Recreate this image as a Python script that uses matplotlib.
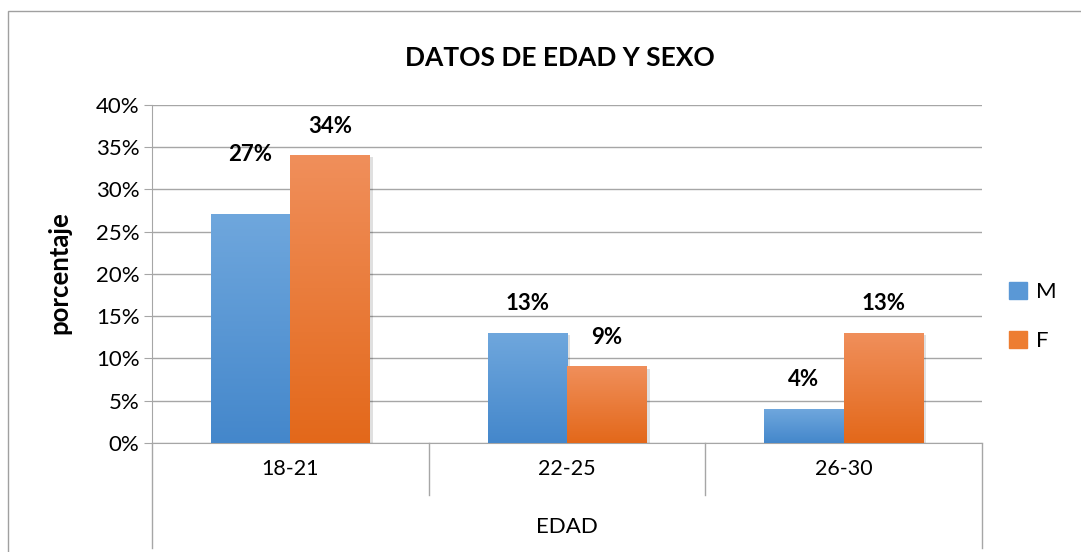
import numpy as np
import matplotlib.pyplot as plt
from matplotlib.patches import Rectangle
from matplotlib.lines import Line2D
from matplotlib.colors import LinearSegmentedColormap

categories = ['18-21', '22-25', '26-30']
m_vals = [27, 13, 4]
f_vals = [34, 9, 13]
series = ['M', 'F']
yticks = [0, 5, 10, 15, 20, 25, 30, 35, 40]

plt.rcParams['font.family'] = ['Lato', 'DejaVu Sans']

fig = plt.figure(figsize=(10.81, 5.52), dpi=100)
ax = fig.add_axes([0.1406, 0.1975, 0.7678, 0.6123])

blue_cm = LinearSegmentedColormap.from_list('b', ['#4487cb', '#6fa7dd'])
orange_cm = LinearSegmentedColormap.from_list('o', ['#e3681a', '#f08f5b'])
grad = np.linspace(0, 1, 256).reshape(-1, 1)

width = 0.287
x = np.arange(len(categories))

def draw_bars(xs, vals, cmap):
    for xi, v in zip(xs, vals):
        # soft shadow
        ax.add_patch(Rectangle((xi - width / 2 + 0.012, 0), width, v - 0.2,
                               color='#000000', alpha=0.12, lw=0, zorder=2))
        ax.imshow(grad, cmap=cmap, origin='lower', aspect='auto',
                  extent=(xi - width / 2, xi + width / 2, 0, v), zorder=3)

draw_bars(x - width / 2, m_vals, blue_cm)
draw_bars(x + width / 2, f_vals, orange_cm)

# data labels
offs_m = [50, 19, 19]
offs_f = [19, 19, 19]
for i in range(len(categories)):
    ax.annotate(f'{m_vals[i]}%', (x[i] - width / 2, m_vals[i]), xytext=(0, offs_m[i]),
                textcoords='offset pixels', ha='center', va='bottom',
                fontsize=16, fontweight='bold', zorder=5)
    ax.annotate(f'{f_vals[i]}%', (x[i] + width / 2, f_vals[i]), xytext=(0, offs_f[i]),
                textcoords='offset pixels', ha='center', va='bottom',
                fontsize=16, fontweight='bold', zorder=5)

ax.set_xlim(-0.5, len(categories) - 0.5)
ax.set_ylim(0, 40)
ax.set_yticks(yticks)
ax.set_yticklabels([f'{t}%' for t in yticks], fontsize=16)
ax.grid(axis='y', color='#a6a6a6', lw=1)
ax.set_axisbelow(True)
ax.tick_params(axis='y', length=6, color='#a6a6a6', pad=3)
ax.set_xticks([])
for s in ['top', 'right']:
    ax.spines[s].set_visible(False)
ax.spines['left'].set_color('#a6a6a6')
ax.spines['bottom'].set_color('#a6a6a6')

# category labels and separators
trans = ax.get_xaxis_transform()
for i, c in enumerate(categories):
    ax.text(i, -0.077, c, transform=trans, ha='center', va='center', fontsize=15.5)
for b in np.arange(-0.5, len(categories), 1.0):
    outer = b in (-0.5, len(categories) - 0.5)
    ax.add_line(Line2D([b, b], [0, -0.311 if outer else -0.154], transform=trans,
                       color='#a6a6a6', lw=1, clip_on=False))
ax.text(1, -0.25, 'EDAD', transform=trans, ha='center', va='center', fontsize=16)

fig.text(0.0546, 0.5054, 'porcentaje', rotation=90, ha='center', va='center',
         fontsize=18.5, fontweight='bold')
fig.text(0.518, 0.895, 'DATOS DE EDAD Y SEXO', ha='center', va='center',
         fontsize=19, fontweight='bold')

# legend
handles = [Rectangle((0, 0), 1, 1, color='#5a98d6'), Rectangle((0, 0), 1, 1, color='#ed7d31')]
fig.legend(handles, series, loc='center left', bbox_to_anchor=(0.915, 0.427),
           frameon=False, fontsize=16, handlelength=0.8, handleheight=0.8,
           handletextpad=0.4, labelspacing=1.3)

# chart border
fig.add_artist(Rectangle((0.0074, -0.05), 1.1, 1.03, transform=fig.transFigure,
                         fill=False, ec='#a0a0a0', lw=1))

fig.savefig('out.png', dpi=100)
